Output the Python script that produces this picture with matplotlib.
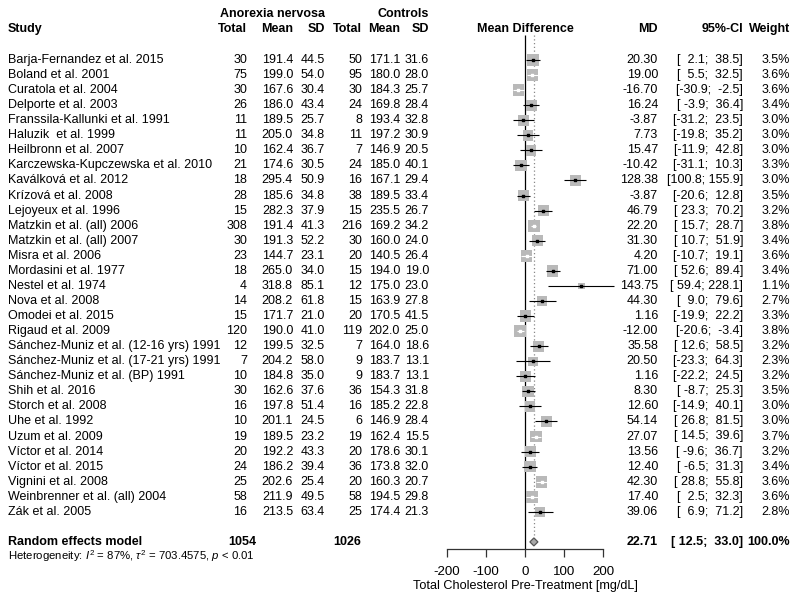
import numpy as np
import matplotlib
matplotlib.use("Agg")
import matplotlib.pyplot as plt

plt.rcParams['font.family'] = ['Liberation Sans', 'DejaVu Sans']
plt.rcParams['mathtext.fontset'] = 'custom'
plt.rcParams['mathtext.rm'] = 'Liberation Sans'
plt.rcParams['mathtext.it'] = 'Liberation Sans:italic'

# ---------------- data ----------------
studies = [
    "Barja-Fernandez et al. 2015", "Boland et al. 2001", "Curatola et al. 2004",
    "Delporte et al. 2003", "Franssila-Kallunki et al. 1991", "Haluzik  et al. 1999",
    "Heilbronn et al. 2007", "Karczewska-Kupczewska et al. 2010", "Kaválková et al. 2012",
    "Krízová et al. 2008", "Lejoyeux et al. 1996", "Matzkin et al. (all) 2006",
    "Matzkin et al. (all) 2007", "Misra et al. 2006", "Mordasini et al. 1977",
    "Nestel et al. 1974", "Nova et al. 2008", "Omodei et al. 2015", "Rigaud et al. 2009",
    "Sánchez-Muniz et al. (12-16 yrs) 1991", "Sánchez-Muniz et al. (17-21 yrs) 1991",
    "Sánchez-Muniz et al. (BP) 1991", "Shih et al. 2016", "Storch et al. 2008",
    "Uhe et al. 1992", "Uzum et al. 2009", "Víctor et al. 2014", "Víctor et al. 2015",
    "Vignini et al. 2008", "Weinbrenner et al. (all) 2004", "Zák et al. 2005",
]
an_total = [30, 75, 30, 26, 11, 11, 10, 21, 18, 28, 15, 308, 30, 23, 18, 4, 14, 15, 120,
            12, 7, 10, 30, 16, 10, 19, 20, 24, 25, 58, 16]
an_mean = [191.4, 199.0, 167.6, 186.0, 189.5, 205.0, 162.4, 174.6, 295.4, 185.6, 282.3,
           191.4, 191.3, 144.7, 265.0, 318.8, 208.2, 171.7, 190.0, 199.5, 204.2, 184.8,
           162.6, 197.8, 201.1, 189.5, 192.2, 186.2, 202.6, 211.9, 213.5]
an_sd = [44.5, 54.0, 30.4, 43.4, 25.7, 34.8, 36.7, 30.5, 50.9, 34.8, 37.9, 41.3, 52.2,
         23.1, 34.0, 85.1, 61.8, 21.0, 41.0, 32.5, 58.0, 35.0, 37.6, 51.4, 24.5, 23.2,
         43.3, 39.4, 25.4, 49.5, 63.4]
co_total = [50, 95, 30, 24, 8, 11, 7, 24, 16, 38, 15, 216, 30, 20, 15, 12, 15, 20, 119,
            7, 9, 9, 36, 16, 6, 19, 20, 36, 20, 58, 25]
co_mean = [171.1, 180.0, 184.3, 169.8, 193.4, 197.2, 146.9, 185.0, 167.1, 189.5, 235.5,
           169.2, 160.0, 140.5, 194.0, 175.0, 163.9, 170.5, 202.0, 164.0, 183.7, 183.7,
           154.3, 185.2, 146.9, 162.4, 178.6, 173.8, 160.3, 194.5, 174.4]
co_sd = [31.6, 28.0, 25.7, 28.4, 32.8, 30.9, 20.5, 40.1, 29.4, 33.4, 26.7, 34.2, 24.0,
         26.4, 19.0, 23.0, 27.8, 41.5, 25.0, 18.6, 13.1, 13.1, 31.8, 22.8, 28.4, 15.5,
         30.1, 32.0, 20.7, 29.8, 21.3]
md = [20.30, 19.00, -16.70, 16.24, -3.87, 7.73, 15.47, -10.42, 128.38, -3.87, 46.79,
      22.20, 31.30, 4.20, 71.00, 143.75, 44.30, 1.16, -12.00, 35.58, 20.50, 1.16, 8.30,
      12.60, 54.14, 27.07, 13.56, 12.40, 42.30, 17.40, 39.06]
ci_lo = [2.1, 5.5, -30.9, -3.9, -31.2, -19.8, -11.9, -31.1, 100.8, -20.6, 23.3, 15.7,
         10.7, -10.7, 52.6, 59.4, 9.0, -19.9, -20.6, 12.6, -23.3, -22.2, -8.7, -14.9,
         26.8, 14.5, -9.6, -6.5, 28.8, 2.5, 6.9]
ci_hi = [38.5, 32.5, -2.5, 36.4, 23.5, 35.2, 42.8, 10.3, 155.9, 12.8, 70.2, 28.7, 51.9,
         19.1, 89.4, 228.1, 79.6, 22.2, -3.4, 58.5, 64.3, 24.5, 25.3, 40.1, 81.5, 39.6,
         36.7, 31.3, 55.8, 32.3, 71.2]
weight = [3.5, 3.6, 3.6, 3.4, 3.0, 3.0, 3.0, 3.3, 3.0, 3.5, 3.2, 3.8, 3.4, 3.6, 3.4, 1.1,
          2.7, 3.3, 3.8, 3.2, 2.3, 3.2, 3.5, 3.0, 3.0, 3.7, 3.2, 3.4, 3.6, 3.6, 2.8]
re_total_an = 1054
re_total_co = 1026
re_md, re_lo, re_hi, re_w = 22.71, 12.5, 33.0, 100.0
het_text = r"Heterogeneity: $I^2$ = 87%, $\tau^2$ = 703.4575, $p$ < 0.01"
xticks = [-200, -100, 0, 100, 200]
xlabel = "Total Cholesterol Pre-Treatment [mg/dL]"

# ---------------- layout ----------------
W, H = 800, 601
fig = plt.figure(figsize=(W / 100, H / 100), dpi=100)
ax0 = fig.add_axes([0, 0, 1, 1])
ax0.set_xlim(0, W)
ax0.set_ylim(H, 0)
ax0.axis('off')

fs = 9.0
row0, dy = 60.0, 15.06
ys = [row0 + i * dy for i in range(len(studies))]
y_re = row0 + (len(studies) + 1) * dy
y_het = y_re + 14.5

# forest axes: x from -200..200 spans px 446.7..603.3 ; y from 0 (top) to axis at 549 px
fx0, fx1 = 446.7, 603.3
axis_y = 549
axf = fig.add_axes([fx0 / W, (H - axis_y) / H, (fx1 - fx0) / W, axis_y / H])
axf.set_xlim(-200, 200)
axf.set_ylim(axis_y, 0)
axf.patch.set_alpha(0)
for s in ['left', 'right', 'top']:
    axf.spines[s].set_visible(False)
axf.set_yticks([])
axf.spines['bottom'].set_bounds(-200, 200)
axf.spines['bottom'].set_color('#333333')
axf.spines['bottom'].set_linewidth(0.9)
axf.set_xticks(xticks)
axf.set_xticklabels([str(t) for t in xticks], fontsize=9.6)
axf.tick_params(axis='x', direction='out', length=6, width=0.9, color='#333333', pad=6)
axf.set_xlabel(xlabel, fontsize=9.1, labelpad=1.5)

px_per_unit = (fx1 - fx0) / 400.0

# reference lines
axf.vlines(0, 35, axis_y, color='black', lw=0.9, zorder=1)
axf.vlines(re_md, 35, y_re - 4, color='#888888', lw=0.9, linestyles=(0, (1, 2)), zorder=1)

k = 12.0 / np.sqrt(3.8)  # px side per sqrt(weight)
for y, m, lo, hi, w in zip(ys, md, ci_lo, ci_hi, weight):
    side_px = k * np.sqrt(w)
    axf.scatter([m], [y], marker='s', s=(side_px * 0.72) ** 2, color='#b9b9b9',
                edgecolors='none', zorder=2, clip_on=False)
    inside = (m - lo) * px_per_unit < side_px / 2 and (hi - m) * px_per_unit < side_px / 2
    col = 'white' if inside else 'black'
    axf.hlines(y, lo, hi, color=col, lw=0.8, zorder=3, clip_on=False)
    axf.scatter([m], [y], marker='s', s=2.5, color=col, zorder=4, clip_on=False)

# diamond
dh = 4.0
axf.fill([re_lo, re_md, re_hi, re_md], [y_re, y_re - dh, y_re, y_re + dh],
         facecolor='#a8a8a8', edgecolor='#555555', lw=0.9, zorder=3, clip_on=False)

# ---------------- text ----------------
bold = dict(fontsize=fs, fontweight='bold', va='center')
norm = dict(fontsize=fs, va='center')
x_study = 8
cols_right = [247, 293, 325, 362, 400, 429]
x_md, x_ci, x_w = 658, 743, 790

ax0.text(325, 14, "Anorexia nervosa", ha='right', **bold)
ax0.text(429, 14, "Controls", ha='right', **bold)
ax0.text(x_study, 29, "Study", ha='left', **bold)
for x, lab in zip(cols_right, ["Total", "Mean", "SD", "Total", "Mean", "SD"]):
    ax0.text(x, 29, lab, ha='right', **bold)
ax0.text(525, 29, "Mean Difference", ha='center', **bold)
ax0.text(x_md, 29, "MD", ha='right', **bold)
ax0.text(x_ci, 29, "95%-CI", ha='right', **bold)
ax0.text(x_w, 29, "Weight", ha='right', **bold)

for i, y in enumerate(ys):
    ax0.text(x_study, y, studies[i], ha='left', **norm)
    vals = [f"{an_total[i]}", f"{an_mean[i]:.1f}", f"{an_sd[i]:.1f}",
            f"{co_total[i]}", f"{co_mean[i]:.1f}", f"{co_sd[i]:.1f}"]
    for x, v in zip(cols_right, vals):
        ax0.text(x, y, v, ha='right', **norm)
    ax0.text(x_md, y, f"{md[i]:.2f}", ha='right', **norm)
    ax0.text(x_ci, y, f"[{ci_lo[i]:5.1f}; {ci_hi[i]:5.1f}]", ha='right', **norm)
    ax0.text(x_w, y, f"{weight[i]:.1f}%", ha='right', **norm)

ax0.text(x_study, y_re, "Random effects model", ha='left', **bold)
ax0.text(256, y_re, f"{re_total_an}", ha='right', **bold)
ax0.text(361, y_re, f"{re_total_co}", ha='right', **bold)
ax0.text(x_md, y_re, f"{re_md:.2f}", ha='right', **bold)
ax0.text(x_ci, y_re, f"[{re_lo:5.1f}; {re_hi:5.1f}]", ha='right', **bold)
ax0.text(x_w, y_re, f"{re_w:.1f}%", ha='right', **bold)
ax0.text(x_study, y_het, het_text, ha='left', fontsize=8.2, va='center')

fig.savefig("out.png", dpi=100)
